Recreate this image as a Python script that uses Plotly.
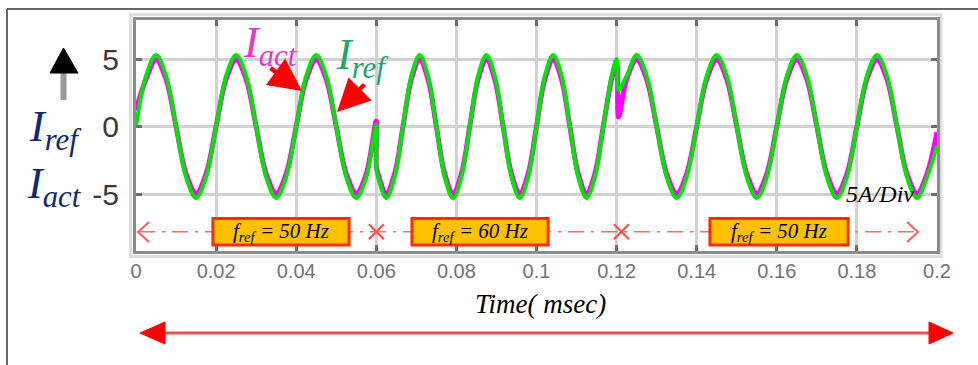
import plotly.graph_objects as go

# ---------------- data ----------------
time_s = [
    0, 0.0025, 0.005, 0.0075, 0.01, 0.0125, 0.015, 0.0175, 0.02, 0.0225,
    0.025, 0.0275, 0.03, 0.0325, 0.035, 0.0375, 0.04, 0.0425, 0.045, 0.0475,
    0.05, 0.0525, 0.055, 0.0575, 0.06,
    0.06, 0.06042, 0.0625, 0.06458, 0.06667, 0.06875, 0.07083, 0.07292, 0.075,
    0.07708, 0.07917, 0.08125, 0.08333, 0.08542, 0.0875, 0.08958, 0.09167,
    0.09375, 0.09583, 0.09792, 0.1, 0.10208, 0.10417, 0.10625, 0.10833,
    0.11042, 0.1125, 0.11458, 0.11667, 0.11875, 0.12,
    0.1205, 0.1225, 0.125, 0.1275, 0.13, 0.1325, 0.135, 0.1375, 0.14, 0.1425,
    0.145, 0.1475, 0.15, 0.1525, 0.155, 0.1575, 0.16, 0.1625, 0.165, 0.1675,
    0.17, 0.1725, 0.175, 0.1775, 0.18, 0.1825, 0.185, 0.1875, 0.19, 0.1925,
    0.195, 0.1975, 0.2,
]

i_ref = [
    0, 3.75, 5.3, 3.75, 0, -3.75, -5.3, -3.75, 0, 3.75,
    5.3, 3.75, 0, -3.75, -5.3, -3.75, 0, 3.75, 5.3, 3.75,
    0, -3.75, -5.3, -3.75, 0.15,
    -3.1, -3.75, -5.3, -3.75, 0, 3.75, 5.3, 3.75, 0,
    -3.75, -5.3, -3.75, 0, 3.75, 5.3, 3.75, 0,
    -3.75, -5.3, -3.75, 0, 3.75, 5.3, 3.75, 0,
    -3.75, -5.3, -3.75, 0, 3.75, 5.0,
    2.7, 3.75, 5.3, 3.75, 0, -3.75, -5.3, -3.75, 0, 3.75,
    5.3, 3.75, 0, -3.75, -5.3, -3.75, 0, 3.75, 5.3, 3.75,
    0, -3.75, -5.3, -3.75, 0, 3.75, 5.3, 3.75, 0, -3.75,
    -5.3, -3.75, -1.4,
]

i_act = [
    1.2, 3.5, 4.95, 3.5, 0, -3.5, -4.95, -3.5, 0, 3.5,
    4.95, 3.5, 0, -3.5, -4.95, -3.5, 0, 3.5, 4.95, 3.5,
    0, -3.5, -4.95, -3.5, 0.4,
    -2.9, -3.5, -4.95, -3.5, 0, 3.5, 4.95, 3.5, 0,
    -3.5, -4.95, -3.5, 0, 3.5, 4.95, 3.5, 0,
    -3.5, -4.95, -3.5, 0, 3.5, 4.95, 3.5, 0,
    -3.5, -4.95, -3.5, 0, 3.5, 4.7,
    0.7, 3.5, 4.95, 3.5, 0, -3.5, -4.95, -3.5, 0, 3.5,
    4.95, 3.5, 0, -3.5, -4.95, -3.5, 0, 3.5, 4.95, 3.5,
    0, -3.5, -4.95, -3.5, 0, 3.5, 4.95, 3.5, 0, -3.5,
    -4.95, -3.5, -0.4,
]

x_ticks = [0, 0.02, 0.04, 0.06, 0.08, 0.1, 0.12, 0.14, 0.16, 0.18, 0.2]
x_tick_labels = ["0", "0.02", "0.04", "0.06", "0.08", "0.1", "0.12", "0.14", "0.16", "0.18", "0.2"]
y_ticks = [-5, 0, 5]
y_tick_labels = ["-5", "0", "5"]

freq_labels = ["f<sub>ref</sub> = 50 Hz", "f<sub>ref</sub> = 60 Hz", "f<sub>ref</sub> = 50 Hz"]
freq_box_start = [0.0192, 0.0689, 0.1433]
freq_box_end = [0.0532, 0.1029, 0.1778]
freq_row_value = -7.8
freq_box_low, freq_box_high = -8.78, -6.82
switch_times = [0.06, 0.1212]

# ---------------- layout helpers (pixel -> paper) ----------------
L, T, W, H = 136, 20, 801, 231
FIG_W, FIG_H = 978, 365


def px(x):
    return (x - L) / W


def py(y):
    return (T + H - y) / H


SERIF = "Liberation Serif"
SANS = "Liberation Sans"

fig = go.Figure()

fig.add_trace(go.Scatter(
    x=time_s, y=i_act, mode="lines", name="I_act",
    line=dict(color="#ff00ff", width=5, shape="spline", smoothing=1),
    hoverinfo="skip", showlegend=False,
))
fig.add_trace(go.Scatter(
    x=time_s, y=i_ref, mode="lines", name="I_ref",
    line=dict(color="#00e600", width=4, shape="spline", smoothing=1),
    hoverinfo="skip", showlegend=False,
))

# switching markers on the frequency row
fig.add_trace(go.Scatter(
    x=switch_times, y=[freq_row_value] * len(switch_times), mode="markers",
    marker=dict(symbol="x-thin", size=15, line=dict(color="#ff4848", width=2)),
    hoverinfo="skip", showlegend=False,
))

shapes = []
# outer frame
shapes.append(dict(type="line", xref="paper", yref="paper", x0=px(7), x1=px(978), y0=py(9), y1=py(9),
                   line=dict(color="#666666", width=2)))
shapes.append(dict(type="line", xref="paper", yref="paper", x0=px(7), x1=px(7), y0=py(9), y1=py(366),
                   line=dict(color="#666666", width=2)))
# light grey panel
shapes.append(dict(type="rect", xref="paper", yref="paper", x0=px(130.5), x1=px(941), y0=py(256.5), y1=py(14.5),
                   line=dict(color="#dedede", width=3), layer="below"))

# frequency row dash-dot line
shapes.append(dict(type="line", xref="paper", yref="y", x0=px(139), x1=px(917), y0=freq_row_value, y1=freq_row_value,
                   line=dict(color="#ff6a6a", width=1.5, dash="16px,7px,3px,7px")))


def chevron(tip_x, tip_y, dx, dy):
    return dict(type="path", xref="paper", yref="paper",
                path=f"M {px(tip_x + dx)},{py(tip_y - dy)} L {px(tip_x)},{py(tip_y)} L {px(tip_x + dx)},{py(tip_y + dy)}",
                line=dict(color="#ff5a5a", width=2))


shapes.append(chevron(138, 232, 11, 10))
shapes.append(chevron(918, 232, -11, 10))

# frequency boxes
for s, e in zip(freq_box_start, freq_box_end):
    shapes.append(dict(type="rect", xref="x", yref="y", x0=s, x1=e, y0=freq_box_low, y1=freq_box_high,
                       fillcolor="#ffc000", line=dict(color="#ff2e00", width=3)))

# bottom double arrow
shapes.append(dict(type="line", xref="paper", yref="paper", x0=px(160), x1=px(933), y0=py(333), y1=py(333),
                   line=dict(color="#e05656", width=3)))


def tri(tip_x, tip_y, base_x, half):
    return dict(type="path", xref="paper", yref="paper",
                path=f"M {px(tip_x)},{py(tip_y)} L {px(base_x)},{py(tip_y - half)} L {px(base_x)},{py(tip_y + half)} Z",
                fillcolor="#ff0000", line=dict(color="#ff0000", width=1))


shapes.append(tri(140, 333, 165, 11))
shapes.append(tri(953, 333, 929, 11))

# y-label arrow (black head, grey stem)
shapes.append(dict(type="line", xref="paper", yref="paper", x0=px(63.5), x1=px(63.5), y0=py(72), y1=py(100),
                   line=dict(color="#9a9a9a", width=6)))
shapes.append(dict(type="path", xref="paper", yref="paper",
                   path=f"M {px(63.5)},{py(48)} L {px(50)},{py(73)} L {px(78)},{py(73)} Z",
                   fillcolor="#000000", line=dict(color="#000000", width=1)))

annotations = []


def note(x, y, text, size, color, xanchor="center", yanchor="middle", family=SERIF):
    return dict(x=px(x), y=py(y), xref="paper", yref="paper", xanchor=xanchor, yanchor=yanchor,
                text=text, showarrow=False, font=dict(family=family, size=size, color=color))


# frequency labels
for s, e, lab in zip(freq_box_start, freq_box_end, freq_labels):
    annotations.append(dict(x=(s + e) / 2, y=(freq_box_low + freq_box_high) / 2, xref="x", yref="y",
                            xanchor="center", yanchor="middle",
                            text=f"<i>{lab}</i>", showarrow=False,
                            font=dict(family=SERIF, size=21, color="#000000")))

# y axis label
annotations.append(note(27, 129, "<i>I<sub>ref</sub></i>", 44, "#13296e", xanchor="left"))
annotations.append(note(25, 186, "<i>I<sub>act</sub></i>", 44, "#13296e", xanchor="left"))

# series labels inside the plot
annotations.append(note(241, 45, "<i>I<sub>act</sub></i>", 44, "#e838c4", xanchor="left"))
annotations.append(note(334, 58, "<i>I<sub>ref</sub></i>", 44, "#1aa86a", xanchor="left"))

# red pointer arrows
annotations.append(dict(x=px(302), y=py(91), xref="paper", yref="paper", ax=-33, ay=-24, text="",
                        showarrow=True, arrowhead=2, arrowsize=1.45, arrowwidth=4.5, arrowcolor="#ff0000"))
annotations.append(dict(x=px(337), y=py(112), xref="paper", yref="paper", ax=29, ay=-29, text="",
                        showarrow=True, arrowhead=2, arrowsize=1.45, arrowwidth=4.5, arrowcolor="#ff0000"))

# scale note
annotations.append(note(880, 194, "<i>5A/Div</i>", 24, "#000000"))

# x axis title
annotations.append(note(540, 304, "<i>Time( msec)</i>", 27, "#000000"))

fig.update_layout(
    width=FIG_W, height=FIG_H,
    margin=dict(l=L, r=FIG_W - L - W, t=T, b=FIG_H - T - H),
    paper_bgcolor="#ffffff", plot_bgcolor="#ffffff",
    shapes=shapes, annotations=annotations,
    showlegend=False,
)

fig.update_xaxes(
    range=[0, 0.2], tickvals=x_ticks, ticktext=x_tick_labels,
    showgrid=True, gridcolor="#d2d2d2", gridwidth=3, zeroline=False,
    showline=True, linecolor="#8c8c8c", linewidth=3, mirror="ticks",
    ticks="inside", ticklen=6, tickwidth=3, tickcolor="#6e6e6e",
    tickfont=dict(family=SANS, size=20, color="#737373"), ticklabelstandoff=0,
)
fig.update_yaxes(
    range=[-9.22, 7.89], tickvals=y_ticks, ticktext=y_tick_labels,
    showgrid=True, gridcolor="#d2d2d2", gridwidth=3, zeroline=False,
    showline=True, linecolor="#8c8c8c", linewidth=3, mirror="ticks",
    ticks="inside", ticklen=6, tickwidth=3, tickcolor="#6e6e6e",
    tickfont=dict(family=SANS, size=30, color="#3a3a3a"), ticklabelstandoff=8,
)

fig.write_html("out.html")
